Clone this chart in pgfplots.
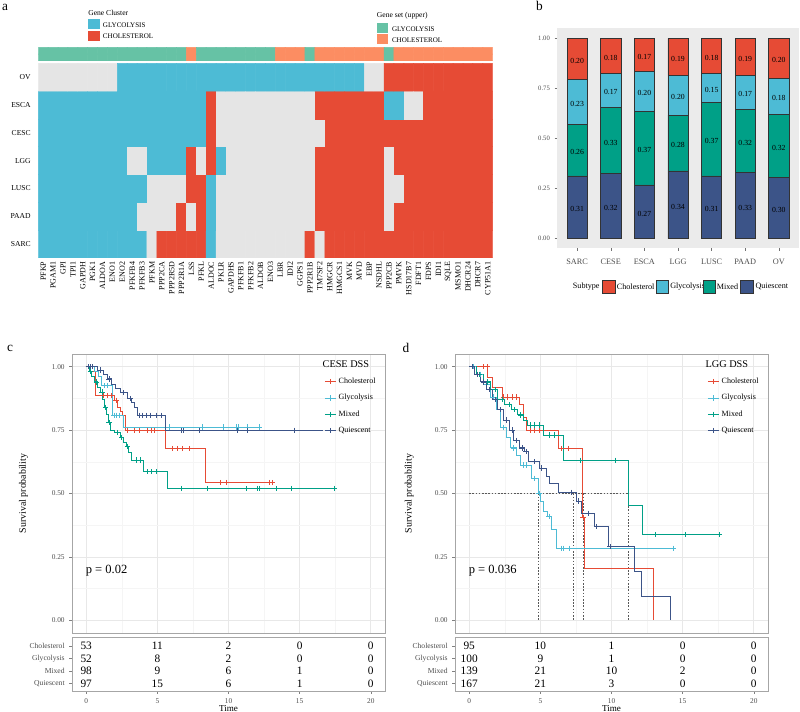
\documentclass[border=0pt]{standalone}
\usepackage{fontspec}
\setmainfont{Liberation Serif}
\usepackage{pgfplots}
\usepackage{pgfplotstable}
\pgfplotsset{compat=1.18}
\newcommand{\fs}[1]{\fontsize{#1}{#1}\selectfont}
\definecolor{hmgray}{RGB}{229,229,229}
\definecolor{hmblue}{RGB}{77,187,213}
\definecolor{hmred}{RGB}{230,75,53}
\definecolor{anngreen}{RGB}{102,194,165}
\definecolor{annorange}{RGB}{252,141,98}
\definecolor{cChol}{RGB}{230,75,53}
\definecolor{cGly}{RGB}{77,187,213}
\definecolor{cMix}{RGB}{0,160,135}
\definecolor{cQui}{RGB}{60,84,136}
\definecolor{txtgray}{RGB}{77,77,77}

\pgfplotstableread{
x  Q     M     G     C
1  0.313 0.258 0.224 0.205
2  0.324 0.330 0.171 0.175
3  0.268 0.369 0.197 0.166
4  0.338 0.278 0.199 0.185
5  0.313 0.369 0.142 0.176
6  0.329 0.318 0.168 0.185
7  0.304 0.318 0.178 0.200
}\tblb

\pgfplotsset{
  every axis/.append style={/pgf/number format/assume math mode=true},
  kmline/.style={line width=0.65pt},
  censor/.style={only marks, mark=+, mark size=2pt, mark options={line width=0.5pt}},
  medline/.style={forget plot, dash pattern=on 1.2pt off 1.2pt, black!65, line width=0.45pt},
  km/.style={
    scale only axis, width=234.75pt, height=209.25pt, anchor=south west,
    xmin=-1, xmax=21, ymin=-0.05, ymax=1.05,
    xtick={0,5,10,15,20}, xticklabels={},
    ytick={0,0.25,0.5,0.75,1}, tick pos=left,
    minor xtick={2.5,7.5,12.5,17.5}, minor ytick={0.125,0.375,0.625,0.875},
    grid=both, major grid style={black!9, line width=0.45pt}, minor grid style={black!4, line width=0.3pt},
    axis line style={black!35, line width=0.5pt},
    xtick style={draw=none}, ytick style={black!50, line width=0.4pt},
    tick align=outside, major tick length=2pt, minor tick length=0pt,
    yticklabel style={font=\fs{5.5}, text=txtgray, /pgf/number format/fixed, /pgf/number format/fixed zerofill, /pgf/number format/precision=2},
    ylabel={Survival probability}, ylabel style={font=\fs{7.4}, anchor=center},
    legend style={at={(0.806,0.925)}, anchor=north west, draw=none, fill=none, font=\fs{6}, row sep=2.6pt, inner sep=0pt},
    legend cell align=left,
    legend image code/.code={\draw[mark repeat=2,mark phase=2,##1] plot coordinates {(0cm,0cm) (0.14cm,0cm) (0.28cm,0cm)};},
  },
  risk/.style={
    scale only axis, width=234.75pt, height=40.5pt, anchor=south west,
    xmin=-1, xmax=21, ymin=0.42, ymax=4.72, clip=false, tick pos=left,
    xtick={0,5,10,15,20}, ytick={1,2,3,4}, yticklabels={Quiescent,Mixed,Glycolysis,Cholesterol},
    axis line style={black!35, line width=0.5pt}, tick style={black!50, line width=0.4pt},
    tick align=outside, major tick length=2pt,
    xticklabel style={font=\fs{5.5}, text=txtgray}, yticklabel style={font=\fs{5.7}, text=txtgray},
    xlabel={Time}, xlabel style={font=\fs{6.8}, yshift=5.5pt},
    every node near coord/.append style={anchor=center, font=\fs{8.5}, inner sep=0pt},
  },
}

\begin{document}
\begin{tikzpicture}
\path[use as bounding box] (0pt,0pt) rectangle (600pt,534pt);

% ---------------- panel a : heatmap ----------------
\begin{axis}[
  at={(28.725pt,340.5pt)}, anchor=south west, scale only axis,
  width=340.8pt, height=146pt,
  xmin=-0.5, xmax=45.5, ymin=-0.5, ymax=6.5,
  axis line style={draw=none}, major tick length=0pt, tick style={draw=none},
  xtick={0,...,45},
  xticklabels={PFKP,PGAM1,GPI,TPI1,GAPDH,PGK1,ALDOA,ENO1,ENO2,PFKFB4,PFKFB3,PFKM,PPP2CA,PPP2R5D,PPP2R1A,LSS,PFKL,ALDOC,PKLR,GAPDHS,PFKFB1,PFKFB2,ALDOB,ENO3,LBR,IDI2,GGPS1,PPP2R1B,TM7SF2,HMGCR,HMGCS1,MVK,MVD,EBP,NSDHL,PPP2CB,PMVK,HSD17B7,FDFT1,FDPS,IDI1,SQLE,MSMO1,DHCR24,DHCR7,CYP51A1},
  x tick label style={rotate=90, anchor=east, font=\fs{6}, inner sep=0pt},
  xticklabel shift=2.6pt,
  ytick={0,...,6}, yticklabels={SARC,PAAD,LUSC,LGG,CESC,ESCA,OV},
  y tick label style={font=\fs{5.7}, inner sep=0pt}, yticklabel shift=5.5pt,
  colormap={hm}{color=(hmgray) color=(hmgray) color=(hmblue) color=(hmblue) color=(hmred) color=(hmred)},
  point meta min=0, point meta max=2,
]
\addplot[matrix plot*, mesh/cols=46, point meta=explicit]
 table[row sep=\\, x expr={\coordindex-46*floor((\coordindex+0.5)/46)}, y expr={floor((\coordindex+0.5)/46)}, meta=v] {
v\\
1\\1\\1\\1\\1\\ 1\\1\\1\\1\\1\\ 1\\ 0\\ 2\\2\\2\\2\\2\\ 1\\ 0\\0\\0\\0\\0\\ 0\\0\\0\\0\\ 2\\ 0\\ 2\\2\\2\\2\\2\\ 2\\2\\2\\2\\2\\ 2\\2\\2\\2\\2\\ 2\\2\\
1\\1\\1\\1\\1\\ 1\\1\\1\\1\\1\\ 0\\0\\0\\0\\ 2\\ 0\\ 2\\ 1\\ 0\\0\\0\\0\\0\\ 0\\0\\0\\0\\0\\ 2\\2\\2\\2\\2\\ 2\\2\\ 0\\ 2\\2\\2\\2\\2\\ 2\\2\\2\\2\\2\\
1\\1\\1\\1\\1\\ 1\\1\\1\\1\\1\\ 1\\ 0\\0\\0\\0\\ 2\\2\\ 1\\ 0\\0\\0\\0\\0\\ 0\\0\\0\\0\\0\\ 2\\2\\2\\2\\2\\ 2\\2\\ 0\\0\\ 2\\2\\2\\2\\2\\ 2\\2\\2\\2\\
1\\1\\1\\1\\1\\ 1\\1\\1\\1\\ 0\\0\\ 1\\1\\1\\1\\ 2\\ 0\\ 2\\ 1\\ 0\\0\\0\\0\\0\\ 0\\0\\0\\0\\ 2\\2\\2\\2\\2\\ 2\\2\\ 0\\ 2\\2\\2\\2\\2\\ 2\\2\\2\\2\\2\\
1\\1\\1\\1\\1\\ 1\\1\\1\\1\\1\\ 1\\1\\1\\1\\1\\ 1\\1\\ 2\\ 0\\0\\0\\0\\0\\ 0\\0\\0\\0\\0\\ 0\\ 2\\2\\2\\2\\2\\ 2\\2\\2\\2\\2\\ 2\\2\\2\\2\\2\\ 2\\2\\
1\\1\\1\\1\\1\\ 1\\1\\1\\1\\1\\ 1\\1\\1\\1\\1\\ 1\\1\\ 2\\ 0\\0\\0\\0\\0\\ 0\\0\\0\\0\\0\\ 2\\2\\2\\2\\2\\ 2\\2\\ 1\\1\\ 0\\0\\ 2\\2\\2\\2\\2\\ 2\\2\\
0\\0\\0\\0\\0\\ 0\\0\\0\\ 1\\1\\1\\1\\1\\ 1\\1\\1\\1\\1\\ 1\\1\\1\\1\\1\\ 1\\1\\1\\1\\1\\ 1\\1\\1\\1\\1\\ 0\\0\\ 2\\2\\2\\2\\2\\ 2\\2\\2\\2\\2\\ 2\\
};
\end{axis}

% annotation bar (gene set)
\begin{axis}[
  at={(28.725pt,488.25pt)}, anchor=south west, scale only axis,
  width=340.8pt, height=10.3pt,
  xmin=-0.5, xmax=45.5, ymin=-0.5, ymax=1.5, hide axis,
  colormap={ann}{color=(anngreen) color=(anngreen) color=(annorange) color=(annorange)},
  point meta min=0, point meta max=1,
]
\addplot[matrix plot*, mesh/cols=46, point meta=explicit]
 table[row sep=\\, x expr={\coordindex-46*floor((\coordindex+0.5)/46)}, y expr={floor((\coordindex+0.5)/46)}, meta=v] {
v\\
0\\0\\0\\0\\0\\ 0\\0\\0\\0\\0\\ 0\\0\\0\\0\\0\\ 1\\ 0\\0\\0\\0\\0\\ 0\\0\\0\\ 1\\1\\1\\ 0\\ 1\\1\\1\\1\\1\\ 1\\1\\ 0\\ 1\\1\\1\\1\\1\\ 1\\1\\1\\1\\1\\
0\\0\\0\\0\\0\\ 0\\0\\0\\0\\0\\ 0\\0\\0\\0\\0\\ 1\\ 0\\0\\0\\0\\0\\ 0\\0\\0\\ 1\\1\\1\\ 0\\ 1\\1\\1\\1\\1\\ 1\\1\\ 0\\ 1\\1\\1\\1\\1\\ 1\\1\\1\\1\\1\\
};
\end{axis}

% legends of panel a
\node[anchor=west, font=\fs{5.7}, inner sep=0pt] at (66pt,524.5pt) {Gene Cluster};
\fill[hmblue] (66.2pt,512pt) rectangle (75pt,519.5pt);
\fill[hmred] (66.2pt,503.5pt) rectangle (75pt,511pt);
\node[anchor=west, font=\fs{5.3}, inner sep=0pt] at (77pt,515.25pt) {GLYCOLYSIS};
\node[anchor=west, font=\fs{5.3}, inner sep=0pt] at (77pt,506.5pt) {CHOLESTEROL};
\node[anchor=west, font=\fs{5.7}, inner sep=0pt] at (282.5pt,522pt) {Gene set (upper)};
\fill[anngreen] (282.5pt,509pt) rectangle (291.2pt,517pt);
\fill[annorange] (282.5pt,501pt) rectangle (291.2pt,508.3pt);
\node[anchor=west, font=\fs{5.3}, inner sep=0pt] at (293.8pt,512.25pt) {GLYCOLYSIS};
\node[anchor=west, font=\fs{5.3}, inner sep=0pt] at (293.8pt,503.5pt) {CHOLESTEROL};

% ---------------- panel b : stacked bars ----------------
\begin{axis}[
  at={(417.75pt,347.775pt)}, anchor=south west, scale only axis,
  width=181.5pt, height=165pt,
  ybar stacked, bar width=0.6,
  xmin=0.4, xmax=7.6, ymin=-0.048, ymax=1.05,
  axis background/.style={fill=black!8},
  axis line style={draw=none}, tick pos=left,
  xtick={1,...,7}, xticklabels={SARC,CESE,ESCA,LGG,LUSC,PAAD,OV},
  ytick={0,0.25,0.5,0.75,1},
  tick align=outside, major tick length=1.8pt, tick style={black!55, line width=0.4pt},
  xticklabel style={font=\fs{6.2}, text=txtgray}, xticklabel shift=3pt,
  yticklabel style={font=\fs{5}, text=txtgray, /pgf/number format/fixed, /pgf/number format/fixed zerofill, /pgf/number format/precision=2},
]
\addplot[fill=cQui, draw=black!80, line width=0.4pt] table[x=x, y=Q]{\tblb};
\addplot[fill=cMix, draw=black!80, line width=0.4pt] table[x=x, y=M]{\tblb};
\addplot[fill=cGly, draw=black!80, line width=0.4pt] table[x=x, y=G]{\tblb};
\addplot[fill=cChol, draw=black!80, line width=0.4pt] table[x=x, y=C]{\tblb};
\end{axis}
\begin{axis}[
  at={(417.75pt,347.775pt)}, anchor=south west, scale only axis,
  width=181.5pt, height=165pt,
  xmin=0.4, xmax=7.6, ymin=-0.048, ymax=1.05, hide axis,
  every node near coord/.append style={anchor=center, font=\fs{5.8}, inner sep=0pt},
]
\addplot[only marks, mark=none, nodes near coords, point meta=explicit symbolic] coordinates {
(1,0.147)[0.31] (1,0.432)[0.26] (1,0.673)[0.23] (1,0.888)[0.20]
(2,0.152)[0.32] (2,0.479)[0.33] (2,0.730)[0.17] (2,0.903)[0.18]
(3,0.124)[0.27] (3,0.443)[0.37] (3,0.726)[0.20] (3,0.907)[0.17]
(4,0.159)[0.34] (4,0.467)[0.28] (4,0.706)[0.20] (4,0.898)[0.19]
(5,0.147)[0.31] (5,0.488)[0.37] (5,0.743)[0.15] (5,0.902)[0.18]
(6,0.155)[0.33] (6,0.478)[0.32] (6,0.721)[0.17] (6,0.898)[0.19]
(7,0.142)[0.30] (7,0.453)[0.32] (7,0.701)[0.18] (7,0.890)[0.20]
};
\end{axis}
% legend of panel b
\node[anchor=west, font=\fs{6.1}, inner sep=0pt] at (429.5pt,319pt) {Subtype};
\filldraw[fill=cChol, draw=black!80, line width=0.4pt] (452pt,314pt) rectangle (461.25pt,324pt);
\node[anchor=west, font=\fs{6.1}, inner sep=0pt] at (462.5pt,319pt) {Cholesterol};
\filldraw[fill=cGly, draw=black!80, line width=0.4pt] (492.5pt,314pt) rectangle (501.25pt,324pt);
\node[anchor=west, font=\fs{6.1}, inner sep=0pt] at (502.5pt,319pt) {Glycolysis};
\filldraw[fill=cMix, draw=black!80, line width=0.4pt] (527.5pt,314pt) rectangle (536.25pt,324pt);
\node[anchor=west, font=\fs{6.1}, inner sep=0pt] at (537.5pt,319pt) {Mixed};
\filldraw[fill=cQui, draw=black!80, line width=0.4pt] (555.5pt,314pt) rectangle (565pt,324pt);
\node[anchor=west, font=\fs{6.1}, inner sep=0pt] at (566.5pt,319pt) {Quiescent};

% ---------------- panel c ----------------
\begin{axis}[km, at={(54pt,59.25pt)}, ylabel style={at={(axis description cs:-0.155,0.5)}}]
\addplot[forget plot, const plot, cChol, kmline] coordinates {(0,1) (0.3,0.981) (0.66,0.886) (2.0,0.867) (2.2,0.841) (2.4,0.825) (2.55,0.808) (2.75,0.749) (5.59,0.677) (8.37,0.543) (13.1,0.543)};
\addplot[forget plot, const plot, cGly, kmline] coordinates {(0,1) (0.55,0.98) (0.85,0.96) (1.1,0.925) (1.82,0.808) (2.65,0.762) (12.17,0.762)};
\addplot[forget plot, const plot, cMix, kmline] coordinates {(0,1) (0.2,0.98) (0.4,0.96) (0.6,0.94) (0.8,0.92) (1.0,0.90) (1.15,0.87) (1.25,0.84) (1.4,0.81) (1.55,0.78) (1.7,0.75) (2.0,0.74) (2.4,0.72) (2.6,0.70) (2.8,0.685) (3.0,0.66) (3.15,0.632) (4.05,0.586) (5.7,0.52) (17.46,0.52)};
\addplot[forget plot, const plot, cQui, kmline] coordinates {(0,1) (0.8,0.987) (1.2,0.97) (1.48,0.952) (1.8,0.93) (2.07,0.913) (2.42,0.897) (2.9,0.874) (3.2,0.858) (3.36,0.841) (3.6,0.808) (5.57,0.749) (16.64,0.749)};
\addplot[forget plot, cChol, censor] coordinates {(0.15,1) (1.2,0.886) (1.5,0.886) (1.75,0.886) (2.1,0.867) (2.9,0.749) (3.36,0.749) (3.71,0.749) (4.3,0.749) (4.6,0.749) (4.77,0.749) (6.06,0.677) (6.42,0.677) (6.77,0.677) (7.24,0.677) (9.44,0.543) (9.83,0.543) (12.9,0.543) (13.1,0.543)};
\addplot[forget plot, cGly, censor] coordinates {(0.3,1) (1.3,0.925) (1.5,0.925) (1.95,0.808) (2.1,0.808) (2.3,0.808) (5.83,0.762) (8.18,0.762) (9.66,0.762) (10.53,0.762) (10.69,0.762) (11.35,0.762) (12.17,0.762)};
\addplot[forget plot, cMix, censor] coordinates {(0.3,0.98) (0.7,0.94) (1.1,0.90) (1.35,0.84) (1.6,0.78) (2.2,0.74) (2.5,0.72) (2.9,0.685) (3.5,0.632) (3.8,0.632) (4.3,0.586) (4.6,0.586) (4.9,0.586) (6.65,0.52) (8.53,0.52) (11.24,0.52) (12.0,0.52) (12.18,0.52) (13.35,0.52) (14.4,0.52) (17.46,0.52)};
\addplot[forget plot, cQui, censor] coordinates {(0.15,1) (0.3,1) (0.45,1) (1.0,0.987) (1.6,0.952) (2.6,0.897) (3.1,0.874) (3.74,0.808) (3.95,0.808) (4.2,0.808) (4.5,0.808) (4.9,0.808) (5.3,0.808) (6.65,0.749) (6.84,0.749) (7.94,0.749) (10.65,0.749) (11.35,0.749) (14.64,0.749)};
\addlegendimage{cChol, kmline, mark=+, mark size=2pt}\addlegendentry{Cholesterol}
\addlegendimage{cGly, kmline, mark=+, mark size=2pt}\addlegendentry{Glycolysis}
\addlegendimage{cMix, kmline, mark=+, mark size=2pt}\addlegendentry{Mixed}
\addlegendimage{cQui, kmline, mark=+, mark size=2pt}\addlegendentry{Quiescent}
\node[anchor=west, font=\fs{7.7}, inner sep=0pt] at (rel axis cs:0.8,0.963) {CESE DSS};
\node[anchor=west, font=\fs{9.4}, inner sep=0pt] at (axis cs:-0.05,0.195) {p = 0.02};
\end{axis}
\begin{axis}[risk, at={(54pt,15.75pt)}]
\addplot[only marks, mark=none, nodes near coords, point meta=explicit symbolic] coordinates {
(0,4)[53] (5,4)[11] (10,4)[2] (15,4)[0] (20,4)[0]
(0,3)[52] (5,3)[8] (10,3)[2] (15,3)[0] (20,3)[0]
(0,2)[98] (5,2)[9] (10,2)[6] (15,2)[1] (20,2)[0]
(0,1)[97] (5,1)[15] (10,1)[6] (15,1)[1] (20,1)[0]
};
\end{axis}

% ---------------- panel d ----------------
\begin{axis}[km, at={(341.25pt,59.25pt)}, ylabel style={at={(axis description cs:-0.146,0.5)}}]
\addplot[medline] coordinates {(0,0.5) (11.2,0.5)};
\addplot[medline] coordinates {(4.85,0.5) (4.85,0)};
\addplot[medline] coordinates {(7.31,0.5) (7.31,0)};
\addplot[medline] coordinates {(8.01,0.5) (8.01,0)};
\addplot[medline] coordinates {(11.2,0.5) (11.2,0)};
\addplot[forget plot, const plot, cChol, kmline] coordinates {(0,1) (1.3,0.958) (1.6,0.919) (2.3,0.88) (3.5,0.85) (3.8,0.80) (4.05,0.749) (6.25,0.677) (7.95,0.406) (8.1,0.203) (12.93,0)};
\addplot[forget plot, const plot, cGly, kmline] coordinates {(0,1) (0.5,0.97) (1.0,0.93) (1.5,0.88) (1.9,0.83) (2.2,0.76) (2.6,0.72) (2.9,0.68) (3.3,0.65) (3.6,0.612) (4.38,0.56) (4.85,0.50) (5.0,0.467) (5.25,0.43) (5.5,0.41) (5.8,0.357) (6.15,0.284) (14.33,0.284)};
\addplot[forget plot, const plot, cMix, kmline] coordinates {(0,1) (0.5,0.97) (1.0,0.94) (1.5,0.91) (2.0,0.87) (2.5,0.85) (3.0,0.83) (3.4,0.81) (3.8,0.79) (4.1,0.77) (5.2,0.73) (6.6,0.631) (11.17,0.452) (12.2,0.337) (17.6,0.337)};
\addplot[forget plot, const plot, cQui, kmline] coordinates {(0,1) (0.4,0.97) (0.8,0.94) (1.2,0.91) (1.6,0.87) (2.0,0.83) (2.4,0.79) (2.8,0.75) (3.1,0.71) (3.5,0.68) (3.9,0.665) (4.15,0.625) (4.9,0.60) (5.4,0.566) (5.65,0.54) (6.25,0.505) (7.5,0.47) (7.9,0.422) (8.8,0.37) (9.77,0.29) (11.64,0.194) (12.11,0.096) (14.15,0)};
\addplot[forget plot, cChol, censor] coordinates {(1.0,1) (1.25,1) (2.4,0.88) (2.7,0.88) (3.0,0.88) (3.3,0.88) (4.3,0.749) (4.6,0.749) (4.9,0.749) (6.5,0.677) (7.0,0.677) (8.0,0.406)};
\addplot[forget plot, cGly, censor] coordinates {(0.3,1) (0.8,0.97) (1.7,0.88) (2.4,0.76) (3.1,0.68) (3.8,0.612) (4.0,0.612) (4.6,0.56) (4.9,0.50) (5.6,0.41) (6.5,0.284) (6.6,0.284) (7.07,0.284) (14.33,0.284)};
\addplot[forget plot, cMix, censor] coordinates {(0.2,1) (0.7,0.97) (1.3,0.94) (1.8,0.91) (2.3,0.87) (2.8,0.85) (3.2,0.83) (3.6,0.81) (4.3,0.77) (4.6,0.77) (4.9,0.77) (5.6,0.73) (6.0,0.73) (7.78,0.631) (10.24,0.631) (13.05,0.337) (15.22,0.337) (17.56,0.337)};
\addplot[forget plot, cQui, censor] coordinates {(0.2,1) (0.6,0.97) (1.0,0.94) (1.4,0.91) (1.8,0.87) (2.2,0.83) (2.6,0.79) (3.0,0.75) (3.3,0.71) (3.7,0.68) (4.0,0.665) (4.6,0.625) (5.1,0.60) (7.2,0.505) (7.7,0.47) (8.36,0.422) (8.95,0.37) (9.9,0.29)};
\addlegendimage{cChol, kmline, mark=+, mark size=2pt}\addlegendentry{Cholesterol}
\addlegendimage{cGly, kmline, mark=+, mark size=2pt}\addlegendentry{Glycolysis}
\addlegendimage{cMix, kmline, mark=+, mark size=2pt}\addlegendentry{Mixed}
\addlegendimage{cQui, kmline, mark=+, mark size=2pt}\addlegendentry{Quiescent}
\node[anchor=west, font=\fs{7.7}, inner sep=0pt] at (rel axis cs:0.8,0.963) {LGG DSS};
\node[anchor=west, font=\fs{9.4}, inner sep=0pt] at (axis cs:-0.05,0.195) {p = 0.036};
\end{axis}
\begin{axis}[risk, at={(341.25pt,15.75pt)}]
\addplot[only marks, mark=none, nodes near coords, point meta=explicit symbolic] coordinates {
(0,4)[95] (5,4)[10] (10,4)[1] (15,4)[0] (20,4)[0]
(0,3)[100] (5,3)[9] (10,3)[1] (15,3)[0] (20,3)[0]
(0,2)[139] (5,2)[21] (10,2)[10] (15,2)[2] (20,2)[0]
(0,1)[167] (5,1)[21] (10,1)[3] (15,1)[0] (20,1)[0]
};
\end{axis}

% panel letters
\node[anchor=center, font=\fs{10}] at (3.75pt,528.75pt) {a};
\node[anchor=center, font=\fs{10}] at (404.5pt,529.5pt) {b};
\node[anchor=center, font=\fs{10}] at (7.5pt,272.8pt) {c};
\node[anchor=center, font=\fs{10}] at (304.5pt,272.8pt) {d};
\end{tikzpicture}
\end{document}
